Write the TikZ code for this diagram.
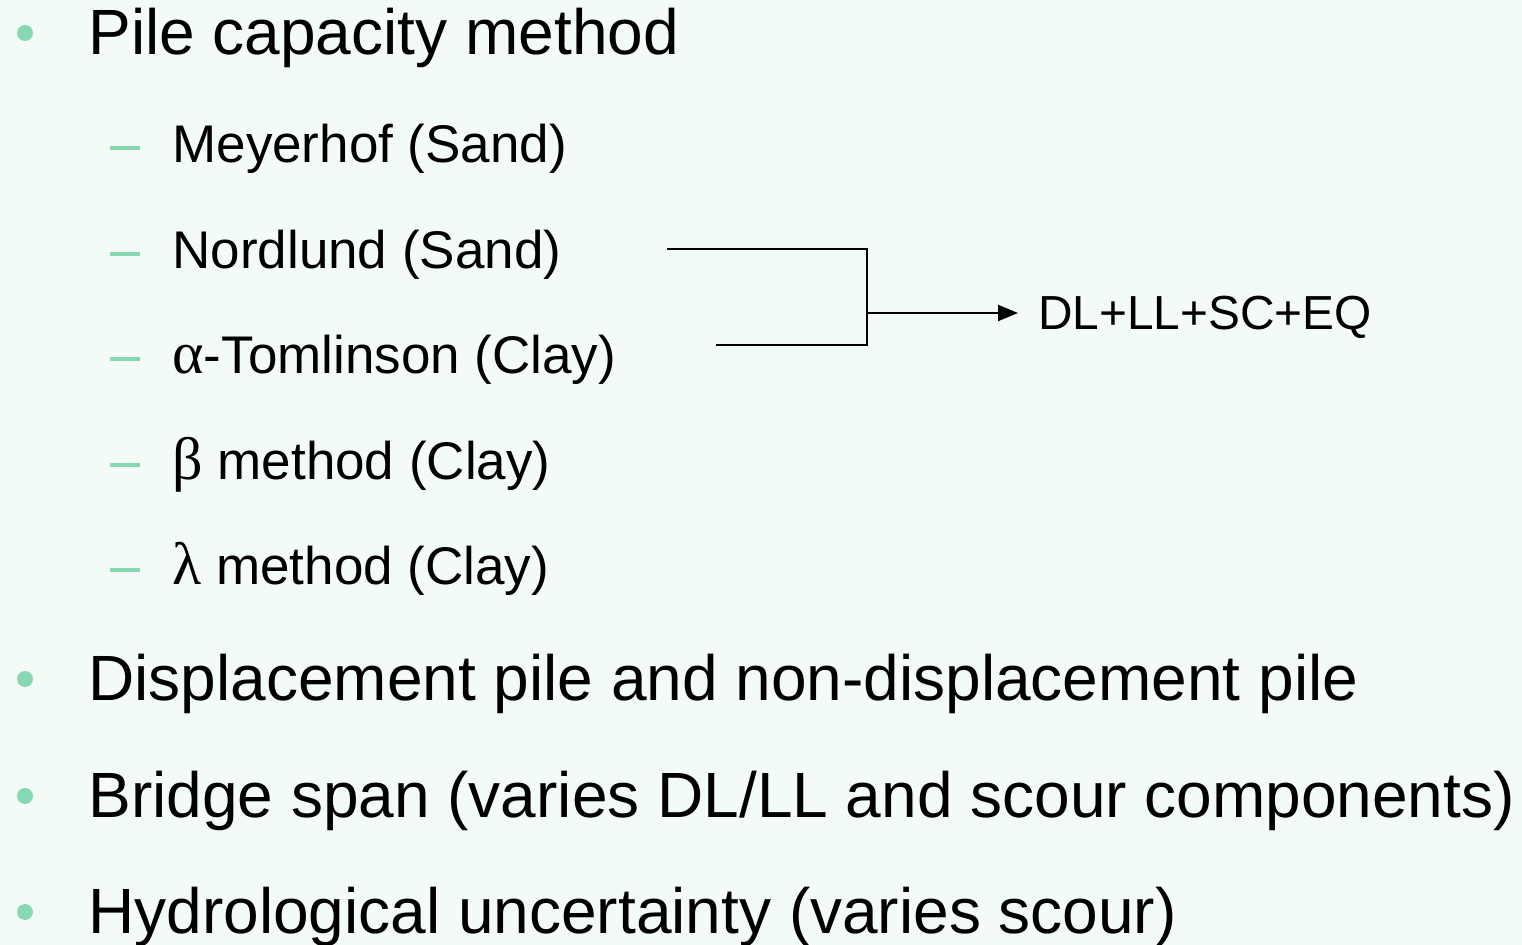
\documentclass[tikz,border=0pt]{standalone}
\usepackage{fontspec}
\setmainfont{Liberation Sans}
\newfontfamily\grk{Liberation Serif}
\usetikzlibrary{arrows.meta}
\definecolor{bg}{HTML}{F3FBF7}
\definecolor{bul}{HTML}{86D8B0}
\newcommand{\gk}[1]{{\grk\fontsize{30}{30}\selectfont #1}}
\begin{document}
\begin{tikzpicture}[x=0.5pt,y=-0.5pt,
  lone/.style={anchor=base west,inner sep=0pt,font=\fontsize{32}{36}\selectfont},
  ltwo/.style={anchor=base west,inner sep=0pt,font=\fontsize{26.5}{31}\selectfont},
  dlt/.style={anchor=west,inner sep=0pt,font=\fontsize{23.9}{26}\selectfont},
  bdot/.style={circle,fill=bul,inner sep=0pt,minimum size=8pt},
  bdash/.style={rectangle,fill=bul,inner sep=0pt,minimum width=15pt,minimum height=1.6pt},
  conn/.style={draw=black,line width=1pt}]
\fill[bg] (0,0) rectangle (1522,945);
\useasboundingbox (0,0) rectangle (1522,945);
% level one
\node[bdot] (d1) at (25,33) {};
\node[lone] (t1) at (88,55) {Pile capacity method};
\node[bdot] (d2) at (25,679) {};
\node[lone] (t2) at (88,701) {Displacement pile and non-displacement pile};
\node[bdot] (d3) at (25,796) {};
\node[lone] (t3) at (88,818) {Bridge span (varies DL/LL and scour components)};
\node[bdot] (d4) at (25,912) {};
\node[lone] (t4) at (88,934) {Hydrological uncertainty (varies scour)};
% level two
\node[bdash] (s1) at (125,148) {};
\node[ltwo] (u1) at (172,163) {Meyerhof (Sand)};
\node[bdash] (s2) at (125,254) {};
\node[ltwo] (u2) at (172,269) {Nordlund (Sand)};
\node[bdash] (s3) at (125,359) {};
\node[ltwo] (u3) at (172,374) {\gk{α}-Tomlinson (Clay)};
\node[bdash] (s4) at (125,465) {};
\node[ltwo] (u4) at (172,480) {\gk{β} method (Clay)};
\node[bdash] (s5) at (125,570) {};
\node[ltwo] (u5) at (172,585) {\gk{λ} method (Clay)};
% connector
\coordinate (ca) at (667,249);
\coordinate (cb) at (716,345);
\coordinate (cj) at (867,313);
\node[dlt] (dl) at (1038,317) {DL+LL+SC+EQ};
\draw[conn] (ca) -| (cj) |- (cb);
\draw[conn,-{Triangle[length=10pt,width=8pt]}] (cj) -- ([xshift=-10pt]dl.west |- cj);
\end{tikzpicture}
\end{document}
